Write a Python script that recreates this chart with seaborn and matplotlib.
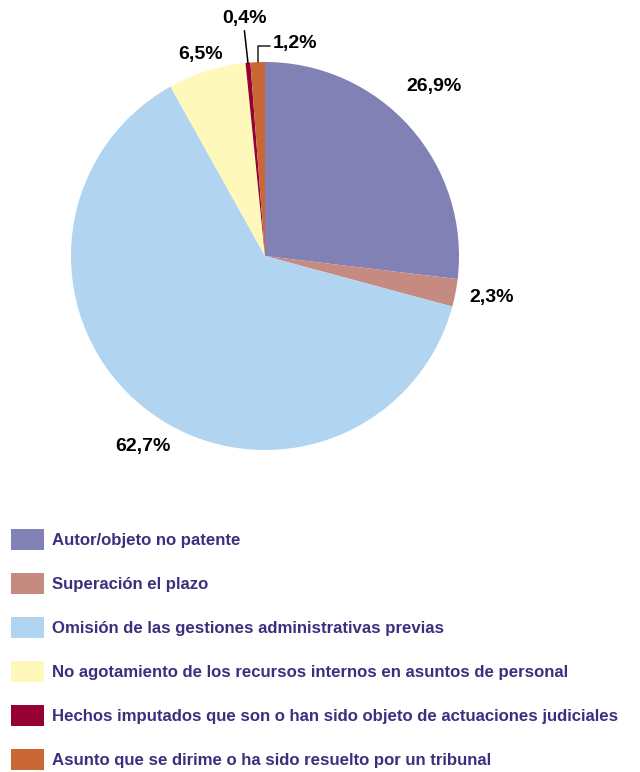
import matplotlib
matplotlib.use("Agg")
import matplotlib.pyplot as plt
import numpy as np
import seaborn as sns

categories = [
    "Autor/objeto no patente",
    "Superación el plazo",
    "Omisión de las gestiones administrativas previas",
    "No agotamiento de los recursos internos en asuntos de personal",
    "Hechos imputados que son o han sido objeto de actuaciones judiciales",
    "Asunto que se dirime o ha sido resuelto por un tribunal",
]
shares = [26.9, 2.3, 62.7, 6.5, 0.4, 1.2]
pct_labels = ["26,9%", "2,3%", "62,7%", "6,5%", "0,4%", "1,2%"]
colors = ["#8281B6", "#C58A80", "#B1D4F1", "#FFF8BB", "#960035", "#CB6635"]

sns.set_theme(style="white")
plt.rcParams["font.family"] = ["Liberation Sans", "DejaVu Sans"]
palette = sns.color_palette(colors)

fig = plt.figure(figsize=(6.4, 7.72), dpi=100)
ax = fig.add_axes([0.1109, 0.4171, 0.6063, 0.5026])

wedges, _ = ax.pie(
    shares,
    colors=palette,
    startangle=90,
    counterclock=False,
    wedgeprops=dict(linewidth=0),
)
ax.set_xlim(-1, 1)
ax.set_ylim(-1, 1)
ax.set_aspect("equal")
ax.axis("off")

# -- percentage labels: (angle nudge in degrees, radial distance)
label_style = {0: (3.6, 1.235), 1: (0.5, 1.19), 2: (5.3, 1.164), 3: (0.4, 1.089)}
txt = dict(fontsize=14, fontweight="bold", color="black")
for i, w in enumerate(wedges):
    mid = np.deg2rad((w.theta1 + w.theta2) / 2)
    edge = (np.cos(mid), np.sin(mid))
    if i in label_style:
        dth, dist = label_style[i]
        a = mid + np.deg2rad(dth)
        ax.text(dist * np.cos(a), dist * np.sin(a), pct_labels[i],
                ha="center", va="center", **txt)
    elif i == 4:
        ax.annotate(pct_labels[i], xy=edge, xytext=(edge[0] - 0.02, 1.222),
                    ha="center", va="center", annotation_clip=False,
                    arrowprops=dict(arrowstyle="-", color="black", lw=1.1,
                                    shrinkA=0, shrinkB=0, relpos=(0.5, 0.0)),
                    **txt)
    else:
        ax.annotate(pct_labels[i], xy=edge, xytext=(0.041, 1.093),
                    ha="left", va="center", annotation_clip=False,
                    arrowprops=dict(arrowstyle="-", color="#222222", lw=1.1,
                                    shrinkA=0, shrinkB=0, relpos=(0.0, 0.35),
                                    connectionstyle="angle,angleA=0,angleB=90,rad=0"),
                    **txt)

fig.legend(
    wedges, categories,
    loc="upper left",
    bbox_to_anchor=(11 / 640, 1 - 529 / 772),
    frameon=False,
    borderpad=0,
    borderaxespad=0,
    handlelength=1.98,
    handleheight=1.5,
    handletextpad=0.48,
    labelspacing=1.4,
    prop=dict(size=12.1, weight="bold"),
    labelcolor="#3B2F7E",
)

fig.savefig("out.png", dpi=100)
